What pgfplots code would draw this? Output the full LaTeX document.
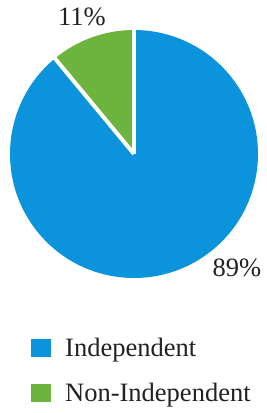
\documentclass[border=0pt]{standalone}
\usepackage{pgfplots}
\pgfplotsset{compat=1.18}
\usepackage{pgfplotstable}
\usepackage{fontspec}
\setmainfont{Liberation Serif}
\definecolor{indblue}{HTML}{0B94DC}
\definecolor{nongreen}{HTML}{6DB43F}
\definecolor{txt}{HTML}{222222}
\pgfplotstableread{
label value
Independent 89
Non-Independent 11
}\piedata
\begin{document}
\begin{tikzpicture}
\pgfplotstablegetelem{0}{value}\of\piedata \let\vA\pgfplotsretval
\pgfplotstablegetelem{1}{value}\of\piedata \let\vB\pgfplotsretval
\pgfmathsetmacro{\aStart}{90}%
\pgfmathsetmacro{\aMid}{90+3.6*\vB}%
\pgfmathsetmacro{\aEnd}{\aMid+3.6*\vA}%
\begin{axis}[
  hide axis, x=1pt, y=1pt, scale only axis,
  xmin=0, xmax=267, ymin=0, ymax=413,
  clip=false,
  legend style={draw=none, fill=none, at={(axis cs:28,79.5)}, anchor=north west,
    font=\fontsize{26.5}{31}\selectfont, text=txt, row sep=21.5pt,
    /tikz/every odd column/.append style={column sep=12pt}},
  legend cell align=left,
  legend image code/.code={\fill[#1,draw=none] (0pt,-9pt) rectangle (20pt,9pt);},
]
\path (axis cs:0,0) rectangle (axis cs:267,413);
\fill[nongreen] (axis cs:134,259) -- ++(\aStart:124) arc[start angle=\aStart, end angle=\aMid, radius=124pt] -- cycle;
\fill[indblue] (axis cs:134,259) -- ++(\aMid:124) arc[start angle=\aMid, end angle=\aEnd, radius=124pt] -- cycle;
\draw[white, line width=4pt] (axis cs:134,259) -- ++(\aStart:126);
\draw[white, line width=4pt] (axis cs:134,259) -- ++(\aMid:126);
\node[font=\fontsize{26.5}{31}\selectfont, text=txt] at (axis cs:82,396) {11\%};
\node[font=\fontsize{26.5}{31}\selectfont, text=txt] at (axis cs:237,145) {89\%};
\addlegendimage{fill=indblue,draw=none}
\addlegendentry{Independent}
\addlegendimage{fill=nongreen,draw=none}
\addlegendentry{Non-Independent}
\end{axis}
\pgfresetboundingbox
\path[use as bounding box] (current axis.south west) rectangle (current axis.north east);
\end{tikzpicture}
\end{document}
